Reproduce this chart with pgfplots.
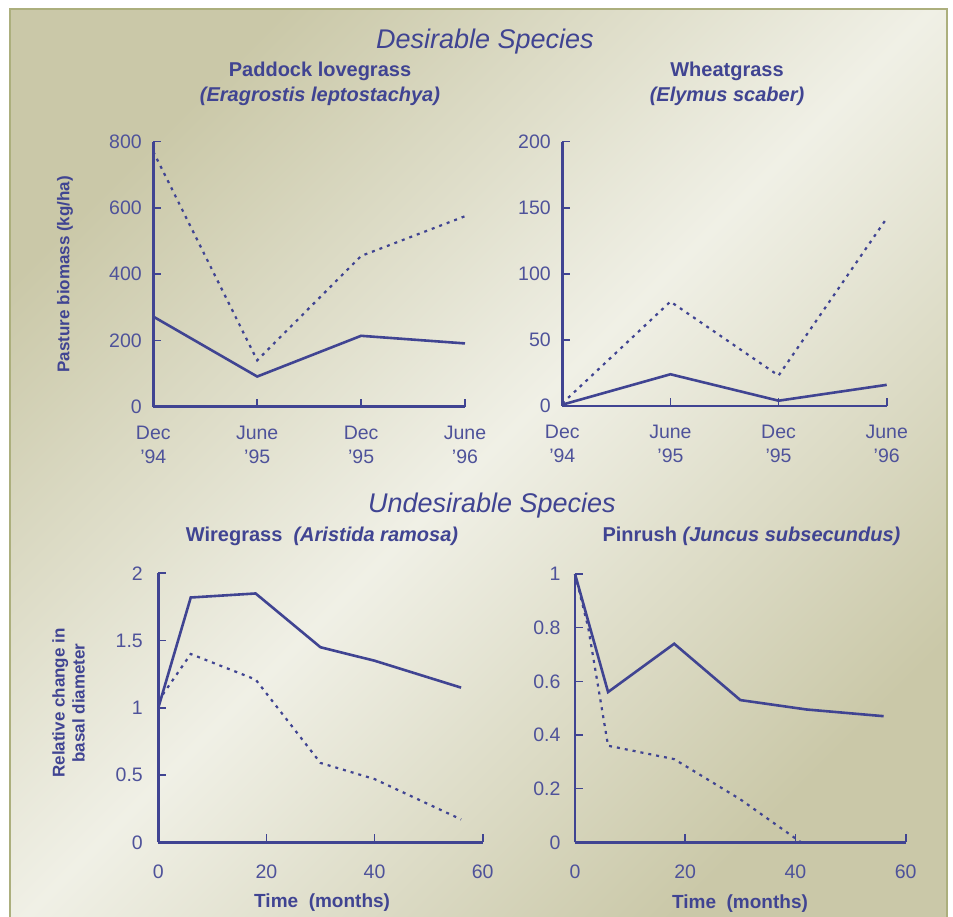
\documentclass[border=0pt]{standalone}
\usepackage{fontspec}
\setmainfont{Liberation Sans}
\usepackage{pgfplots}
\pgfplotsset{compat=1.18}
\definecolor{ink}{RGB}{64,68,146}
\definecolor{tickink}{RGB}{78,82,154}
\definecolor{khaki}{RGB}{202,200,168}
\definecolor{pale}{RGB}{240,240,230}
\definecolor{framec}{RGB}{172,175,125}
\pgfplotsset{
  panel/.style={
    scale only axis, clip=false,
    anchor=south west,
    axis lines*=left,
    axis line style={ink, line width=2.6pt},
    tick align=inside,
    major tick length=8pt,
    major tick style={ink, line width=1.6pt},
    tick label style={font=\fontsize{19.5}{24}\selectfont, text=tickink},
    /pgf/number format/assume math mode=true,
    label style={font=\bfseries\fontsize{17}{20}\selectfont, text=ink},
    xlabel style={font=\bfseries\fontsize{19}{22}\selectfont},
  },
  solidline/.style={ink, line width=2.6pt, mark=none},
  dotline/.style={ink, line width=2.2pt, dash pattern=on 3pt off 5pt, mark=none},
}
\begin{document}
\begin{tikzpicture}[x=1pt,y=1pt]
\fill[white] (0,0) rectangle (953,917);
\useasboundingbox (0,0) rectangle (953,917);
\shade[top color=khaki, bottom color=khaki, middle color=pale, shading angle=45] (10,0) rectangle (947,908);
\draw[framec, line width=1.5pt] (10,0) -- (10,908) -- (947,908) -- (947,0);

\node[anchor=base, font=\itshape\fontsize{27}{30}\selectfont, text=ink] at (485,868) {Desirable Species};
\node[anchor=base, font=\bfseries\fontsize{20}{24}\selectfont, text=ink] at (320,840) {Paddock lovegrass};
\node[anchor=base, font=\bfseries\itshape\fontsize{20}{24}\selectfont, text=ink] at (320,815) {(Eragrostis leptostachya)};
\node[anchor=base, font=\bfseries\fontsize{20}{24}\selectfont, text=ink] at (727,840) {Wheatgrass};
\node[anchor=base, font=\bfseries\itshape\fontsize{20}{24}\selectfont, text=ink] at (727,815) {(Elymus scaber)};
\node[anchor=base, font=\itshape\fontsize{27}{30}\selectfont, text=ink] at (492,404) {Undesirable Species};
\node[anchor=base, font=\bfseries\fontsize{20}{24}\selectfont, text=ink] at (322,375.3) {Wiregrass\ \ \textit{(Aristida ramosa)}};
\node[anchor=base, font=\bfseries\fontsize{20}{24}\selectfont, text=ink] at (751.5,375.3) {Pinrush \textit{(Juncus subsecundus)}};

% Top left
\begin{axis}[panel, at={(153.3pt,510.3pt)}, width=311.7pt, height=265pt,
  xmin=0, xmax=3, ymin=0, ymax=800,
  xtick={0,1,2,3}, xticklabels={{Dec\\'94},{June\\'95},{Dec\\'95},{June\\'96}},
  xticklabel style={align=center, yshift=-16pt},
  ytick={0,200,400,600,800}, yticklabel style={xshift=-8pt},
  ylabel={Pasture biomass (kg/ha)},
  ylabel style={at={(axis description cs:-0.283,0.5)}, anchor=center}]
\addplot[solidline] coordinates {(0,272) (1,91) (2,214) (3,191)};
\addplot[dotline] coordinates {(0,770) (1,140) (2,455) (3,575)};
\end{axis}

% Top right
\begin{axis}[panel, at={(562.3pt,511pt)}, width=324.4pt, height=264.3pt,
  xmin=0, xmax=3, ymin=0, ymax=200,
  xtick={0,1,2,3}, xticklabels={{Dec\\'94},{June\\'95},{Dec\\'95},{June\\'96}},
  xticklabel style={align=center, yshift=-16pt},
  ytick={0,50,100,150,200}, yticklabel style={xshift=-8pt}]
\addplot[solidline] coordinates {(0,1) (1,24) (2,4) (3,16)};
\addplot[dotline] coordinates {(0,2) (1,79) (2,23) (3,142)};
\end{axis}

% Bottom left
\begin{axis}[panel, at={(158.3pt,74.7pt)}, width=324.4pt, height=269pt,
  xmin=0, xmax=60, ymin=0, ymax=2,
  xtick={0,20,40,60}, ytick={0,0.5,1,1.5,2},
  xticklabel style={yshift=-19pt}, yticklabel style={xshift=-12pt},
  xlabel={Time\ \ (months)},
  xlabel style={at={(axis description cs:0.505,-0.244)}, anchor=base},
  ylabel={Relative change in\\basal diameter},
  ylabel style={align=center, at={(axis description cs:-0.277,0.518)}, anchor=center}]
\addplot[solidline] coordinates {(0,1.0) (6,1.82) (18,1.85) (30,1.45) (40,1.35) (56,1.15)};
\addplot[dotline] coordinates {(0,1.05) (6,1.40) (18,1.21) (30,0.59) (40,0.47) (56,0.17)};
\end{axis}

% Bottom right
\begin{axis}[panel, at={(575pt,74.7pt)}, width=330.7pt, height=268.3pt,
  xmin=0, xmax=60, ymin=0, ymax=1,
  xtick={0,20,40,60}, ytick={0,0.2,0.4,0.6,0.8,1},
  xticklabel style={yshift=-19pt}, yticklabel style={xshift=-11pt},
  xlabel={Time\ \ (months)},
  xlabel style={at={(axis description cs:0.499,-0.245)}, anchor=base}]
\addplot[solidline] coordinates {(0,1) (6,0.56) (18,0.74) (30,0.53) (42,0.495) (56,0.47)};
\addplot[dotline] coordinates {(0,1) (2.4,0.8) (6,0.36) (18,0.31) (30,0.16) (41,0)};
\end{axis}
\end{tikzpicture}
\end{document}
